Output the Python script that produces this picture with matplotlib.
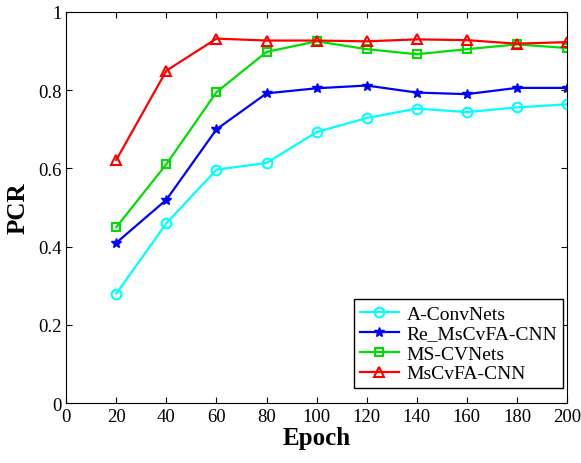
import matplotlib
matplotlib.use('Agg')
import matplotlib.pyplot as plt
import numpy as np

plt.rcParams['font.family'] = ['Liberation Serif', 'DejaVu Serif']
plt.rcParams['xtick.direction'] = 'in'
plt.rcParams['ytick.direction'] = 'in'

epochs = [20, 40, 60, 80, 100, 120, 140, 160, 180, 200]
a_convnets = [0.28, 0.46, 0.597, 0.614, 0.693, 0.729, 0.753, 0.744, 0.756, 0.764]
re_mscvfa = [0.41, 0.52, 0.70, 0.792, 0.805, 0.812, 0.794, 0.790, 0.806, 0.806]
ms_cvnets = [0.45, 0.611, 0.795, 0.898, 0.925, 0.905, 0.892, 0.905, 0.917, 0.908]
mscvfa = [0.622, 0.85, 0.932, 0.927, 0.927, 0.925, 0.930, 0.928, 0.919, 0.923]

fig = plt.figure(figsize=(5.81, 4.64), dpi=100)
ax = fig.add_axes([0.114, 0.129, 0.862, 0.843])

ax.plot(epochs, a_convnets, color='cyan', marker='o', markersize=7, markerfacecolor='none',
        markeredgewidth=1.5, linewidth=1.6, label='A-ConvNets')
ax.plot(epochs, re_mscvfa, color='blue', marker='*', markersize=7,
        linewidth=1.6, label='Re_MsCvFA-CNN')
ax.plot(epochs, ms_cvnets, color='#00dd00', marker='s', markersize=6, markerfacecolor='none',
        markeredgewidth=1.5, linewidth=1.6, label='MS-CVNets')
ax.plot(epochs, mscvfa, color='red', marker='^', markersize=7.5, markerfacecolor='none',
        markeredgewidth=1.5, linewidth=1.6, label='MsCvFA-CNN')

ax.set_xlim(0, 200)
ax.set_ylim(0, 1)
ax.set_xticks(np.arange(0, 201, 20))
ax.set_yticks([0, 0.2, 0.4, 0.6, 0.8, 1])
ax.set_yticklabels(['0', '0.2', '0.4', '0.6', '0.8', '1'])
ax.tick_params(labelsize=13.5, top=True, right=True, length=4)
ax.set_xlabel('Epoch', fontsize=18, fontweight='bold', labelpad=1)
ax.set_ylabel('PCR', fontsize=18, fontweight='bold', labelpad=6)

leg = ax.legend(loc='lower right', bbox_to_anchor=(0.992, 0.038), fontsize=14,
                fancybox=False, framealpha=1, edgecolor='black', handlelength=2.0,
                borderpad=0.3, labelspacing=0.12, handletextpad=0.4, borderaxespad=0.0)

fig.savefig('out.png', dpi=100)
